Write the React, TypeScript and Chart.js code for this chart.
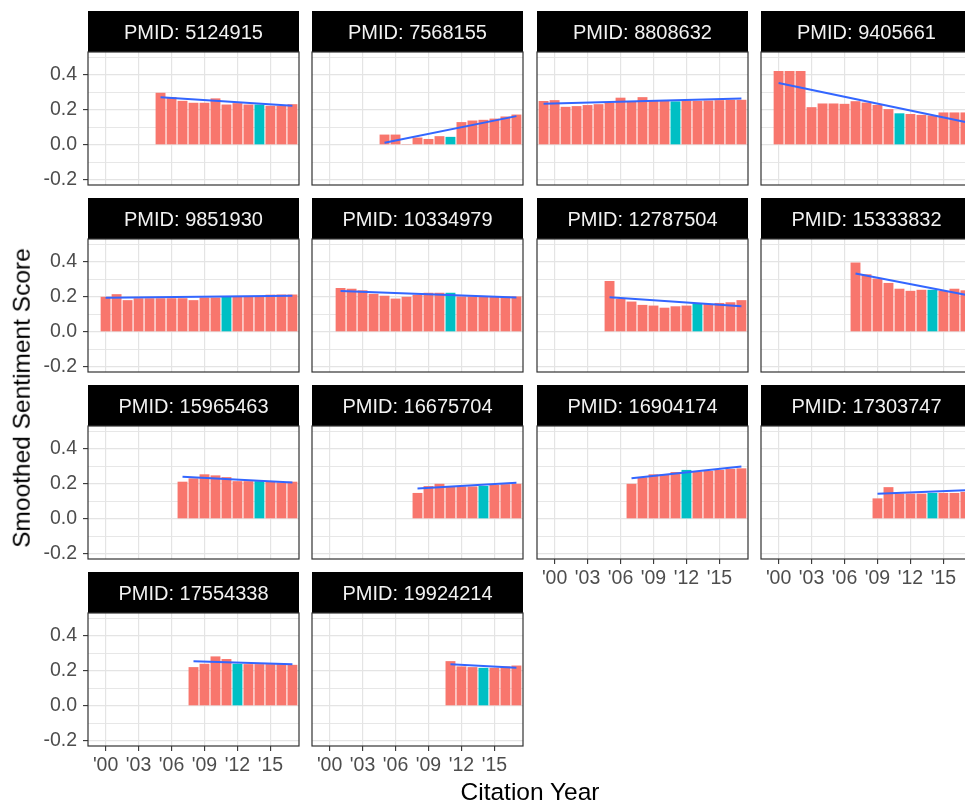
import React, { useEffect, useRef } from "react";
import { Chart, registerables } from "chart.js";

Chart.register(...registerables);

// ---------- data ----------
const pmids = [
  "5124915", "7568155", "8808632", "9405661",
  "9851930", "10334979", "12787504", "15333832",
  "15965463", "16675704", "16904174", "17303747",
  "17554338", "19924214",
];
const startYears = [2005, 2005, 1999, 2000, 2000, 2001, 2005, 2007, 2007, 2008, 2007, 2009, 2008, 2011];
const highlightYears = [2014, 2011, 2011, 2011, 2011, 2011, 2013, 2014, 2014, 2014, 2012, 2014, 2012, 2014];
const lastYear = 2017;

const scores5124915 = [0.297, 0.272, 0.251, 0.24, 0.24, 0.265, 0.23, 0.238, 0.23, 0.23, 0.223, 0.223, 0.232];
const scores7568155 = [0.059, 0.059, 0.005, 0.042, 0.034, 0.05, 0.046, 0.13, 0.139, 0.143, 0.15, 0.162, 0.173];
const scores8808632 = [0.25, 0.255, 0.217, 0.221, 0.227, 0.232, 0.24, 0.269, 0.246, 0.272, 0.251, 0.25, 0.248, 0.253, 0.251, 0.253, 0.255, 0.257, 0.257];
const scores9405661 = [0.421, 0.421, 0.421, 0.215, 0.236, 0.236, 0.234, 0.249, 0.241, 0.228, 0.204, 0.18, 0.176, 0.171, 0.168, 0.185, 0.185, 0.185];
const scores9851930 = [0.2, 0.215, 0.181, 0.192, 0.192, 0.192, 0.192, 0.192, 0.181, 0.196, 0.196, 0.2, 0.2, 0.2, 0.2, 0.212, 0.213, 0.213];
const scores10334979 = [0.25, 0.246, 0.237, 0.217, 0.206, 0.19, 0.2, 0.212, 0.223, 0.223, 0.223, 0.202, 0.202, 0.202, 0.202, 0.202, 0.202];
const scores12787504 = [0.29, 0.188, 0.173, 0.154, 0.15, 0.138, 0.146, 0.15, 0.16, 0.16, 0.165, 0.169, 0.181];
const scores15333832 = [0.395, 0.328, 0.304, 0.279, 0.246, 0.234, 0.24, 0.24, 0.233, 0.246, 0.237];
const scores15965463 = [0.212, 0.231, 0.254, 0.248, 0.238, 0.215, 0.215, 0.215, 0.212, 0.208, 0.212];
const scores16675704 = [0.148, 0.187, 0.2, 0.185, 0.185, 0.185, 0.188, 0.194, 0.198, 0.2];
const scores16904174 = [0.2, 0.237, 0.254, 0.254, 0.267, 0.279, 0.269, 0.273, 0.279, 0.285, 0.288];
const scores17303747 = [0.117, 0.181, 0.144, 0.144, 0.144, 0.148, 0.148, 0.148, 0.154];
const scores17554338 = [0.221, 0.24, 0.282, 0.267, 0.24, 0.238, 0.238, 0.238, 0.238, 0.234];
const scores19924214 = [0.255, 0.225, 0.221, 0.217, 0.217, 0.225, 0.23];

const panelScores = [
  scores5124915, scores7568155, scores8808632, scores9405661,
  scores9851930, scores10334979, scores12787504, scores15333832,
  scores15965463, scores16675704, scores16904174, scores17303747,
  scores17554338, scores19924214,
];

// fitted trend line end values
const trendStart = [0.272, 0.013, 0.234, 0.352, 0.194, 0.233, 0.198, 0.333, 0.24, 0.173, 0.231, 0.144, 0.255, 0.238];
const trendEnd = [0.223, 0.164, 0.265, 0.131, 0.206, 0.196, 0.146, 0.212, 0.208, 0.206, 0.298, 0.163, 0.238, 0.217];

const xTickYears = [2000, 2003, 2006, 2009, 2012, 2015];
const xTickLabels = ["'00", "'03", "'06", "'09", "'12", "'15"];
const yMajorTicks = [-0.2, 0, 0.2, 0.4];
const yTickLabels = ["-0.2", "0.0", "0.2", "0.4"];
const yMinorTicks = [-0.1, 0.1, 0.3, 0.5];

// ---------- style / layout ----------
const BAR = "#F8766D";
const HILITE = "#00BFC4";
const TREND = "#3366FF";
const GRID = "#E4E4E4";
const FONT = "'Liberation Sans', Arial, Helvetica, sans-serif";
const TICK_COLOR = "#4D4D4D";

const COL_LEFT = [88, 312, 537, 761];
const ROW_TOP = [11, 198, 385, 572];
const PLOT_W = 211;
const STRIP_H = 41;
const PLOT_H = 133;

const isMinor = (v: number) => yMinorTicks.some((m) => Math.abs(m - v) < 1e-9);

function makeStripPlugin(label: string) {
  return {
    id: "strip",
    afterDraw(chart: any) {
      const { ctx, chartArea: a } = chart;
      ctx.save();
      ctx.fillStyle = "#000";
      ctx.fillRect(a.left, 0, a.right - a.left, STRIP_H);
      ctx.fillStyle = "#F2F2F2";
      ctx.font = `20px ${FONT}`;
      ctx.textAlign = "center";
      ctx.textBaseline = "middle";
      ctx.fillText(label, (a.left + a.right) / 2, STRIP_H / 2 + 1.5);
      ctx.strokeStyle = "#333333";
      ctx.lineWidth = 1.2;
      ctx.strokeRect(a.left, a.top, a.right - a.left, a.bottom - a.top);
      ctx.restore();
    },
  };
}

function Panel({ index }: { index: number }) {
  const ref = useRef<HTMLCanvasElement>(null);
  const row = Math.floor(index / 4);
  const col = index % 4;
  const hasY = col === 0;
  const hasX = index >= 10;
  const mL = hasY ? 88 : 2;
  const mR = 2;
  const mB = hasX ? 36 : 2;
  const left = COL_LEFT[col] - mL;
  const top = ROW_TOP[row];
  const w = mL + PLOT_W + mR;
  const h = STRIP_H + PLOT_H + mB;

  useEffect(() => {
    const scores = panelScores[index];
    const years = scores.map((_, k) => startYears[index] + k);
    const barData = years.map((yr, k) => ({ x: yr, y: scores[k] }));
    const colors = years.map((yr) => (yr === highlightYears[index] ? HILITE : BAR));
    const chart = new Chart(ref.current as HTMLCanvasElement, {
      type: "bar",
      data: {
        datasets: [
          {
            type: "line",
            data: [
              { x: startYears[index], y: trendStart[index] },
              { x: lastYear, y: trendEnd[index] },
            ],
            borderColor: TREND,
            borderWidth: 2,
            pointRadius: 0,
            fill: false,
            order: 0,
          } as any,
          {
            type: "bar",
            data: barData,
            backgroundColor: colors,
            borderWidth: 0,
            barPercentage: 0.9,
            categoryPercentage: 1,
            order: 1,
          } as any,
        ],
      },
      options: {
        animation: false,
        responsive: false,
        events: [],
        layout: { autoPadding: false, padding: { top: STRIP_H, right: mR, left: 0, bottom: 0 } },
        plugins: { legend: { display: false }, tooltip: { enabled: false }, title: { display: false } },
        scales: {
          x: {
            type: "linear",
            min: 1998.4,
            max: 2017.6,
            offset: false,
            border: { display: false },
            grid: {
              offset: false,
              color: GRID,
              lineWidth: 1.2,
              drawTicks: hasX,
              tickLength: 5,
              tickColor: "#333333",
              tickWidth: 1.1,
            },
            ticks: {
              display: hasX,
              autoSkip: false,
              maxRotation: 0,
              padding: 3,
              color: TICK_COLOR,
              font: { family: FONT, size: 19.5 },
              callback: (_v: any, i: number) => xTickLabels[i],
            },
            afterBuildTicks: (s: any) => {
              s.ticks = xTickYears.map((v) => ({ value: v }));
            },
            afterFit: (s: any) => {
              s.height = mB;
              s.paddingLeft = 0;
              s.paddingRight = 0;
              s.paddingTop = 0;
              s.paddingBottom = 0;
            },
          },
          y: {
            type: "linear",
            min: -0.228,
            max: 0.529,
            border: { display: false },
            grid: {
              color: GRID,
              lineWidth: (c: any) => (c.tick && isMinor(c.tick.value) ? 0.9 : 1.2),
              drawTicks: hasY,
              tickLength: 5,
              tickColor: (c: any) => (c.tick && isMinor(c.tick.value) ? "rgba(0,0,0,0)" : "#333333"),
              tickWidth: 1.1,
            },
            ticks: {
              display: hasY,
              autoSkip: false,
              padding: 6,
              color: TICK_COLOR,
              font: { family: FONT, size: 19.5 },
              callback: (v: any) => {
                const i = yMajorTicks.findIndex((t) => Math.abs(t - Number(v)) < 1e-9);
                return i >= 0 ? yTickLabels[i] : "";
              },
            },
            afterBuildTicks: (s: any) => {
              s.ticks = [...yMajorTicks, ...yMinorTicks].sort((a, b) => a - b).map((v) => ({ value: v }));
            },
            afterFit: (s: any) => {
              s.width = mL;
              s.paddingLeft = 0;
              s.paddingRight = 0;
              s.paddingTop = 0;
              s.paddingBottom = 0;
            },
          },
        },
      } as any,
      plugins: [makeStripPlugin("PMID: " + pmids[index])],
    });
    return () => chart.destroy();
  }, [index]);

  return (
    <canvas
      ref={ref}
      width={w}
      height={h}
      style={{ position: "absolute", left, top, width: w, height: h, display: "block" }}
    />
  );
}

export default function App() {
  return (
    <div
      style={{
        position: "absolute",
        left: 0,
        top: 0,
        width: 965,
        height: 803,
        overflow: "hidden",
        background: "#ffffff",
        fontFamily: FONT,
      }}
    >
      {pmids.map((_, i) => (
        <Panel key={i} index={i} />
      ))}
      <div
        style={{
          position: "absolute",
          left: 22,
          top: 398,
          transform: "translate(-50%, -50%) rotate(-90deg)",
          whiteSpace: "nowrap",
          fontSize: 24.5,
          lineHeight: "24.5px",
          color: "#000",
        }}
      >
        Smoothed Sentiment Score
      </div>
      <div
        style={{
          position: "absolute",
          left: 530,
          top: 780,
          transform: "translateX(-50%)",
          whiteSpace: "nowrap",
          fontSize: 24.5,
          lineHeight: "24.5px",
          color: "#000",
        }}
      >
        Citation Year
      </div>
    </div>
  );
}
